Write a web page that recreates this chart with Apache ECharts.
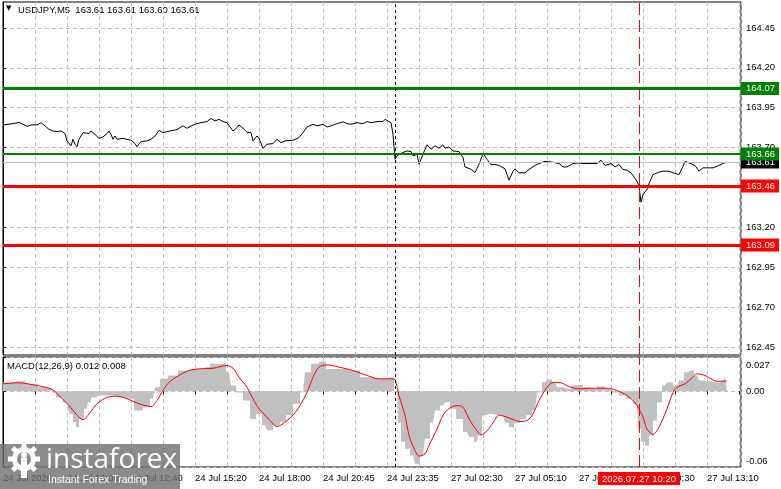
<!DOCTYPE html>
<html><head><meta charset="utf-8">
<script src="https://cdn.jsdelivr.net/npm/echarts@6/dist/echarts.min.js"></script>
<style>html,body{margin:0;padding:0;background:#fff}#c{width:781px;height:489px}</style>
</head><body><div id="c"></div>
<script>
// ---------- data ----------
const chartTitle = 'USDJPY,M5  163.61 163.61 163.60 163.61';
const macdTitle = 'MACD(12,26,9) 0.012 0.008';

// bar index (M5 bars from left edge) and close price
const priceBar = [0,5,8,10,12,14,17,19,21,23,25,27,29,31,32,34,35,36,37,38,40,41,43,44,46,48,50,52,53,54,55,56,57,60,62,64,66,67,69,72,74,76,78,80,82,85,87,90,92,94,97,99,102,104,106,108,110,112,113,115,117,118,120,122,124,125,127,128,130,132,135,137,139,141,142,145,148,150,152,155,157,160,162,164,167,170,172,174,177,180,182,184,187,190,191,192,194,195,196,197,198,200,202,204,205,207,208,210,211,212,214,216,218,220,221,223,225,228,230,231,232,234,236,238,240,242,244,246,248,251,253,255,256,258,261,263,266,268,271,272,275,278,280,282,285,288,290,294,297,299,301,304,306,308,310,312,314,315,317,318,319,320,322,323,325,328,330,333,335,336,338,340,341,343,346,348,350,353,355,358,360,362];
const priceClose = [163.842,163.850,163.858,163.846,163.833,163.842,163.842,163.856,163.836,163.814,163.804,163.800,163.804,163.788,163.742,163.711,163.752,163.721,163.706,163.752,163.794,163.804,163.788,163.804,163.783,163.758,163.767,163.788,163.804,163.783,163.752,163.773,163.752,163.758,163.752,163.746,163.725,163.706,163.738,163.742,163.752,163.773,163.808,163.794,163.800,163.808,163.813,163.836,163.821,163.836,163.850,163.856,163.863,163.883,163.867,163.877,163.863,163.856,163.856,163.804,163.825,163.842,163.821,163.796,163.794,163.742,163.773,163.758,163.696,163.721,163.725,163.752,163.731,163.742,163.731,163.746,163.763,163.794,163.829,163.846,163.836,163.846,163.829,163.836,163.850,163.861,163.850,163.846,163.856,163.850,163.863,163.856,163.863,163.863,163.877,163.871,163.856,163.783,163.627,163.648,163.642,163.669,163.679,163.675,163.648,163.658,163.596,163.658,163.689,163.717,163.689,163.711,163.696,163.717,163.696,163.704,163.679,163.675,163.638,163.579,163.575,163.564,163.544,163.596,163.663,163.627,163.592,163.594,163.588,163.567,163.496,163.552,163.567,163.542,163.542,163.563,163.588,163.600,163.614,163.621,163.608,163.600,163.579,163.579,163.600,163.604,163.600,163.600,163.600,163.621,163.588,163.600,163.579,163.594,163.563,163.558,163.542,163.531,163.489,163.458,163.358,163.406,163.438,163.475,163.531,163.546,163.552,163.552,163.542,163.531,163.531,163.583,163.614,163.604,163.588,163.552,163.573,163.573,163.573,163.588,163.600,163.610];

// MACD main (histogram)
const macdBar = [0,5,7,15,20,24,25,28,32,34,36,37,39,42,43,45,48,53,58,63,68,72,75,77,80,85,90,95,102,105,110,113,115,118,122,125,128,131,133,137,140,143,147,150,152,156,160,163,168,175,182,188,194,197,198,200,202,205,207,210,212,215,217,220,222,225,228,232,234,237,238,241,243,247,250,252,254,257,260,263,266,268,271,273,276,278,282,286,288,292,295,299,303,306,310,313,317,318,320,322,324,326,328,331,333,337,339,342,344,347,349,352,357,360,362];
const macdMain = [0.0069,0.0069,0.0079,0.0058,0.003,0.0018,-0.001,-0.005,-0.0087,-0.018,-0.0245,-0.0285,-0.022,-0.014,-0.0087,-0.005,-0.0035,-0.0035,-0.005,-0.006,-0.0153,-0.0127,-0.006,0.0032,0.0097,0.0124,0.0163,0.0176,0.019,0.0216,0.0216,0.015,0.0044,-0.001,-0.0074,-0.022,-0.018,-0.027,-0.031,-0.027,-0.0245,-0.019,-0.01,-0.001,0.015,0.0216,0.0234,0.0176,0.0176,0.0163,0.011,0.0097,0.011,-0.001,-0.025,-0.04,-0.0456,-0.051,-0.0575,-0.051,-0.0377,-0.025,-0.0153,-0.0114,-0.0087,-0.014,-0.022,-0.0324,-0.036,-0.04,-0.035,-0.019,-0.018,-0.019,-0.019,-0.025,-0.0285,-0.025,-0.022,-0.019,-0.0153,-0.001,0.0069,0.0092,0.0069,0.003,0.0018,0.0044,0.005,0.003,0.0018,0.0036,0.0018,-0.001,-0.0035,-0.006,-0.01,-0.03,-0.04,-0.043,-0.035,-0.0233,-0.0087,0.0044,0.0069,0.0044,0.0084,0.015,0.0163,0.0124,0.0084,0.0078,0.0069,0.0084,0.012];

// MACD signal
const signalBar = [0,8,15,24,28,33,37,40,43,47,52,57,62,68,74,77,80,83,88,93,98,105,112,115,118,122,125,128,132,135,137,142,145,148,152,155,158,162,168,175,182,188,194,196,198,201,203,206,208,211,213,217,220,223,227,230,233,237,239,242,245,248,252,255,258,262,265,268,272,275,279,283,288,295,302,307,312,315,317,320,322,325,328,332,335,337,341,344,347,351,354,357,361,362];
const signalValue = [0.0058,0.0066,0.005,0.0018,-0.0035,-0.0114,-0.019,-0.0227,-0.018,-0.01,-0.005,-0.004,-0.006,-0.01,-0.0122,-0.0074,0.0006,0.0069,0.0124,0.0163,0.0176,0.0181,0.0203,0.0181,0.011,0.003,-0.006,-0.014,-0.0206,-0.0259,-0.028,-0.0233,-0.019,-0.0127,-0.001,0.011,0.019,0.0208,0.019,0.0163,0.0124,0.0097,0.0097,0.0089,-0.0035,-0.019,-0.035,-0.047,-0.0514,-0.0496,-0.043,-0.03,-0.019,-0.0137,-0.0114,-0.0127,-0.022,-0.0314,-0.0346,-0.0314,-0.025,-0.019,-0.0206,-0.0224,-0.024,-0.0233,-0.018,-0.0074,0.003,0.0069,0.0066,0.0036,0.0018,0.0023,0.0023,0.0005,-0.0035,-0.0074,-0.0114,-0.0206,-0.03,-0.0343,-0.0285,-0.014,-0.001,0.003,0.0058,0.0097,0.0137,0.0124,0.0097,0.0078,0.0078,0.0084];

const priceTicks = [162.45,162.70,162.95,163.20,163.45,163.70,163.95,164.20,164.45];
const macdTicks = [-0.06, 0, 0.027];
const macdTickLabels = ['-0.06', '0.00', '0.027'];
const timeLabelBars = [0,32,64,96,128,160,192,224,256,288,320,352];
const timeLabels = ['24 Jul 2026','24 Jul 10:00','24 Jul 12:40','24 Jul 15:20','24 Jul 18:00','24 Jul 20:45','24 Jul 23:35','27 Jul 02:30','27 Jul 05:10','27 Jul 07:50','27 Jul 10:30','27 Jul 13:10'];
const levelValues = [164.07, 163.66, 163.46, 163.09];
const currentPrice = 163.61;
const daySeparatorBar = 196;
const cursorBar = 318;
const cursorLabel = '2026.07.27 10:20';

// ---------- styles ----------
const FONT = "'Liberation Sans', Arial, 'DejaVu Sans', sans-serif";
const FS = 9.5;
const levelColors = ['#008000', '#008000', '#ff0000', '#ff0000'];
const levelWidths = [3, 2, 3, 3];
const GRID_LINE = '#c0c0c0';
const BAR_MIN = 0, BAR_MAX = 369;

const chart = echarts.init(document.getElementById('c'), null, {renderer: 'canvas'});

function xAxisCommon(gridIndex, showLabels) {
  return {
    type: 'value', gridIndex, min: BAR_MIN, max: BAR_MAX, interval: 16,
    axisLine: {show: false},
    axisTick: {show: showLabels, length: 3, lineStyle: {color: '#000'}},
    splitLine: {show: true, lineStyle: {color: GRID_LINE, type: [4, 3], width: 1}},
    axisLabel: {
      show: showLabels, align: 'left', margin: 6, color: '#000', fontSize: FS, fontFamily: FONT,
      showMinLabel: true, showMaxLabel: false,
      formatter: v => { const i = timeLabelBars.indexOf(Math.round(v)); return i >= 0 ? timeLabels[i] : ''; }
    }
  };
}

const option = {
  animation: false,
  backgroundColor: '#fff',
  grid: [
    {left: 3, top: 2, width: 738, height: 353, show: true, borderColor: '#000', borderWidth: 1, backgroundColor: 'transparent'},
    {left: 3, top: 357, width: 738, height: 110, show: true, borderColor: '#000', borderWidth: 1, backgroundColor: 'transparent'}
  ],
  xAxis: [xAxisCommon(0, false), xAxisCommon(1, true)],
  yAxis: [
    {
      type: 'value', gridIndex: 0, position: 'right', min: 162.40, max: 164.6125, scale: true,
      axisLine: {show: true, lineStyle: {color: '#000'}},
      axisTick: {show: true, length: 3, customValues: priceTicks, lineStyle: {color: '#000'}},
      splitLine: {show: true, lineStyle: {color: GRID_LINE, type: [4, 3]}},
      axisLabel: {customValues: priceTicks, color: '#000', fontSize: FS, fontFamily: FONT, margin: 5,
        formatter: v => v.toFixed(2)}
    },
    {
      type: 'value', gridIndex: 1, position: 'right', min: -0.06, max: 0.027,
      axisLine: {show: true, lineStyle: {color: '#000'}},
      axisTick: {show: true, length: 3, customValues: macdTicks, lineStyle: {color: '#000'}},
      splitLine: {show: true, lineStyle: {color: GRID_LINE, type: [4, 3]}},
      axisLabel: {customValues: macdTicks, color: '#000', fontSize: FS, fontFamily: FONT, margin: 5,
        formatter: v => {
          const i = macdTicks.findIndex(t => Math.abs(t - v) < 1e-6);
          const s = i >= 0 ? macdTickLabels[i] : '';
          if (v > 0.001) return '{top|' + s + '}';
          if (v < -0.001) return '{bot|' + s + '}';
          return '{mid|' + s + '}';
        },
        rich: {
          top: {fontSize: FS, fontFamily: FONT, color: '#000', padding: [17, 0, 0, 0]},
          bot: {fontSize: FS, fontFamily: FONT, color: '#000', padding: [0, 0, 12, 0]},
          mid: {fontSize: FS, fontFamily: FONT, color: '#000'}
        }
      }
    }
  ],
  series: [
    {
      name: 'price', type: 'line', xAxisIndex: 0, yAxisIndex: 0,
      data: priceBar.map((b, i) => [b, priceClose[i]]),
      showSymbol: false, symbol: 'none', lineStyle: {color: '#000', width: 1}, z: 5,
      markLine: {
        silent: true, symbol: ['none', 'none'], animation: false, z: 6,
        label: {show: true, position: 'end', distance: 0, color: '#fff', fontSize: FS, fontFamily: FONT,
          padding: [2, 4, 1, 5], formatter: p => Number(p.value).toFixed(2)},
        data: [
          {yAxis: currentPrice, lineStyle: {color: '#c0c0c0', width: 1, type: 'solid'}, label: {backgroundColor: '#000'}},
          ...levelValues.map((v, i) => ({yAxis: v, lineStyle: {color: levelColors[i], width: levelWidths[i], type: 'solid'},
            label: {backgroundColor: levelColors[i]}})),
          {xAxis: daySeparatorBar, lineStyle: {color: '#000', width: 1, type: [3, 3]}, label: {show: false}},
          {xAxis: cursorBar, lineStyle: {color: '#ff0000', width: 1, type: [12, 5]}, label: {show: false}}
        ]
      }
    },
    {
      name: 'MACD', type: 'line', xAxisIndex: 1, yAxisIndex: 1, step: 'middle',
      data: macdBar.map((b, i) => [b, macdMain[i]]),
      showSymbol: false, symbol: 'none', lineStyle: {width: 0, color: '#c0c0c0'},
      areaStyle: {color: '#c0c0c0', opacity: 1, origin: 0}, z: 2
    },
    {
      name: 'Signal', type: 'line', xAxisIndex: 1, yAxisIndex: 1, smooth: 0.3,
      data: signalBar.map((b, i) => [b, signalValue[i]]),
      showSymbol: false, symbol: 'none', lineStyle: {color: '#ff0000', width: 1}, z: 4,
      markLine: {
        silent: true, symbol: ['none', 'none'], animation: false, z: 6,
        data: [
          {xAxis: daySeparatorBar, lineStyle: {color: '#000', width: 1, type: [3, 3]}, label: {show: false}},
          {xAxis: cursorBar, lineStyle: {color: '#ff0000', width: 1, type: [12, 5]},
            label: {show: true, position: 'start', distance: 5, formatter: cursorLabel, color: '#fff',
              backgroundColor: '#ff0000', fontSize: FS, fontFamily: FONT, padding: [2, 4, 1, 4]}}
        ]
      }
    }
  ],
  graphic: [
    {type: 'text', left: 6, top: 5, style: {text: '\u25BC', fontSize: 7, fontFamily: "'DejaVu Sans', sans-serif", fill: '#000'}},
    {type: 'text', left: 18, top: 5, style: {text: chartTitle, fontSize: FS, fontFamily: FONT, fill: '#000'}},
    {type: 'text', left: 7, top: 361, style: {text: macdTitle, fontSize: FS, fontFamily: FONT, fill: '#000'}},
    // watermark
    {type: 'rect', left: 0, top: 444, shape: {width: 180, height: 45}, style: {fill: 'rgba(110,110,110,0.8)'}, z: 100},
    {type: 'ring', z: 101, shape: {cx: 24, cy: 459, r: 12, r0: 7}, style: {fill: '#fff'}},
    {type: 'group', z: 101, x: 24, y: 459, children: [0, 45, 90, 135, 180, 225, 270, 315].map(a => ({
      type: 'rect', rotation: a * Math.PI / 180, shape: {x: -2.5, y: -16, width: 5, height: 5}, style: {fill: '#fff'}, z: 101
    }))},
    {type: 'rect', z: 101, left: 21, top: 458, shape: {width: 6, height: 20}, style: {fill: '#fff'}},
    {type: 'circle', z: 101, shape: {cx: 24, cy: 455, r: 3}, style: {fill: '#fff'}},
    {type: 'text', z: 101, left: 46, top: 446, style: {text: 'instaforex', fontSize: 28, fontFamily: "'Open Sans', Lato, sans-serif", fill: '#fff'}},
    {type: 'text', z: 101, left: 48, top: 475, style: {text: 'Instant Forex Trading', fontSize: 10.5, fontFamily: FONT, fill: '#fff'}}
  ]
};
chart.setOption(option);
</script>
</body></html>
